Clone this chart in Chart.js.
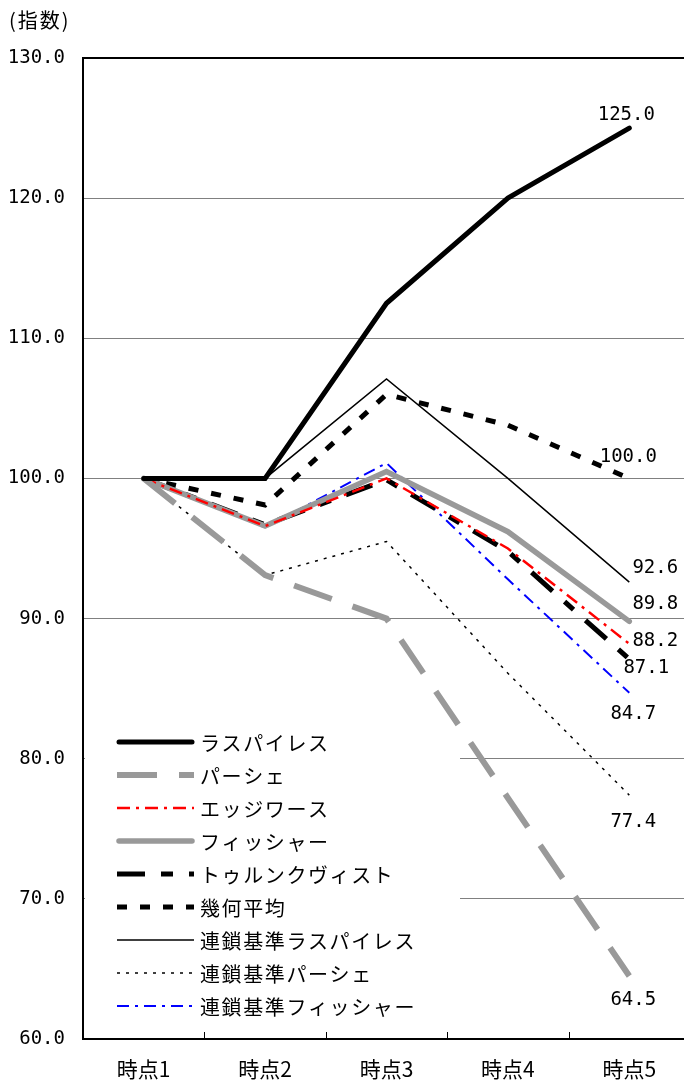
<!DOCTYPE html>
<html>
<head>
<meta charset="utf-8">
<script src="https://cdn.jsdelivr.net/npm/chart.js@4"></script>
<style>
  html, body { margin: 0; padding: 0; background: #fff; overflow: hidden; }
  #wrap { width: 684px; height: 1081px; overflow: hidden; }
</style>
</head>
<body>
<div id="wrap"><canvas id="myChart" width="690" height="1081"></canvas></div>
<script>
// data
var categories = ['時点1', '時点2', '時点3', '時点4', '時点5'];
var seriesNames = ['ラスパイレス', 'パーシェ', 'エッジワース', 'フィッシャー', 'トゥルンクヴィスト',
  '幾何平均', '連鎖基準ラスパイレス', '連鎖基準パーシェ', '連鎖基準フィッシャー'];
var laspeyres      = [100.0, 100.0, 112.5, 120.0, 125.0];
var paasche        = [100.0,  93.1,  90.0,  77.2,  64.5];
var edgeworth      = [100.0,  96.6, 100.0,  95.0,  88.2];
var fisher         = [100.0,  96.6, 100.5,  96.2,  89.8];
var tornqvist      = [100.0,  96.7,  99.9,  94.8,  87.1];
var geometric      = [100.0,  98.1, 106.0, 103.8, 100.0];
var chainLaspeyres = [100.0, 100.0, 107.1, 100.0,  92.6];
var chainPaasche   = [100.0,  93.1,  95.5,  86.1,  77.4];
var chainFisher    = [100.0,  96.5, 101.1,  92.8,  84.7];
var yMin = 60, yMax = 130, yStep = 10;

// line styles, same order as seriesNames
var styles = [
  {color: '#000000', width: 5,   dash: [],              cap: 'round'},
  {color: '#999999', width: 6,   dash: [40, 22],        cap: 'butt'},
  {color: '#ff0000', width: 2.5, dash: [13, 6, 3, 6],   cap: 'butt'},
  {color: '#999999', width: 5.5, dash: [],              cap: 'round'},
  {color: '#000000', width: 5,   dash: [28, 16, 12, 16], cap: 'butt'},
  {color: '#000000', width: 5,   dash: [10, 13],        cap: 'butt'},
  {color: '#000000', width: 1.5, dash: [],              cap: 'butt'},
  {color: '#000000', width: 1.5, dash: [3, 6],          cap: 'butt'},
  {color: '#0000ff', width: 2,   dash: [12, 6, 3, 6],   cap: 'butt'}
];
// where the end value text sits relative to the last point
var labelOffsets = [[-3, -13], [4, 24], [26, -3], [26, -17], [17, 9], [-1, -21], [26, -14], [4, 27], [4, 21]];

var allSeries = [laspeyres, paasche, edgeworth, fisher, tornqvist, geometric, chainLaspeyres, chainPaasche, chainFisher];
var datasets = allSeries.map(function(values, i) {
  var s = styles[i];
  return {
    label: seriesNames[i],
    data: values,
    borderColor: s.color,
    backgroundColor: s.color,
    borderWidth: s.width,
    borderDash: s.dash,
    borderCapStyle: s.cap,
    borderJoinStyle: 'miter',
    pointRadius: 0,
    tension: 0,
    fill: false
  };
});

var numFont = '19px "DejaVu Sans Mono", monospace';
var jpFont = '"Noto Sans CJK JP", sans-serif';

var extras = {
  id: 'extras',
  beforeDatasetsDraw: function(chart) {
    var ctx = chart.ctx;
    var area = chart.chartArea;
    ctx.save();
    // white legend box hides the grid lines underneath
    ctx.fillStyle = '#ffffff';
    ctx.fillRect(area.left + 2, 722, 460 - area.left - 2, 305);
    // small inward ticks on the category axis
    var xs = chart.scales.x;
    ctx.strokeStyle = '#000';
    ctx.lineWidth = 1;
    for (var i = 1; i < categories.length; i++) {
      var bx = Math.round((xs.getPixelForValue(i - 1) + xs.getPixelForValue(i)) / 2) + 0.5;
      ctx.beginPath();
      ctx.moveTo(bx, area.bottom);
      ctx.lineTo(bx, area.bottom - 7);
      ctx.stroke();
    }
    ctx.restore();
  },
  afterDatasetsDraw: function(chart) {
    var ctx = chart.ctx;
    ctx.save();
    // unit label
    ctx.fillStyle = '#000';
    ctx.font = '20px ' + jpFont;
    ctx.letterSpacing = '2px';
    ctx.textAlign = 'left';
    ctx.textBaseline = 'middle';
    ctx.fillText('(指数)', 9, 20);

    // legend
    ctx.letterSpacing = '1.6px';
    chart.data.datasets.forEach(function(ds, i) {
      var y = 742 + i * 33;
      ctx.beginPath();
      ctx.strokeStyle = ds.borderColor;
      ctx.lineWidth = ds.borderWidth;
      ctx.setLineDash(ds.borderDash);
      ctx.lineCap = ds.borderCapStyle;
      var x0 = ds.borderCapStyle == 'round' ? 119 : 117;
      var x1 = ds.borderCapStyle == 'round' ? 192 : 194;
      ctx.moveTo(x0, y);
      ctx.lineTo(x1, y);
      ctx.stroke();
      ctx.setLineDash([]);
      ctx.fillStyle = '#000';
      ctx.font = '20px ' + jpFont;
      ctx.textBaseline = 'middle';
      ctx.fillText(ds.label, 200, y + 1);
    });
    ctx.letterSpacing = '0px';

    // value labels at the last point
    ctx.font = numFont;
    ctx.textAlign = 'center';
    ctx.textBaseline = 'middle';
    ctx.fillStyle = '#000';
    chart.data.datasets.forEach(function(ds, i) {
      var meta = chart.getDatasetMeta(i);
      var last = meta.data[meta.data.length - 1];
      var v = ds.data[ds.data.length - 1];
      ctx.fillText(v.toFixed(1), last.x + labelOffsets[i][0], last.y + labelOffsets[i][1]);
    });
    ctx.restore();
  }
};

var ctx = document.getElementById('myChart');
var myChart = new Chart(ctx, {
  type: 'line',
  data: {labels: categories, datasets: datasets},
  options: {
    responsive: false,
    animation: false,
    devicePixelRatio: 1,
    layout: {padding: {top: 58, left: 0, right: 0, bottom: 0}},
    plugins: {legend: {display: false}, tooltip: {enabled: false}},
    scales: {
      x: {
        offset: true,
        grid: {display: true, drawOnChartArea: false, drawTicks: false, offset: true},
        border: {color: '#000', width: 2},
        ticks: {color: '#000', font: {family: 'Noto Sans CJK JP', size: 21}, padding: 17, maxRotation: 0},
        afterFit: function(scale) { scale.height = 42; }
      },
      y: {
        min: yMin,
        max: yMax,
        ticks: {
          stepSize: yStep,
          color: '#000',
          font: {family: 'DejaVu Sans Mono', size: 19},
          padding: 18,
          callback: function(v) { return Number(v).toFixed(1); }
        },
        grid: {
          drawTicks: false,
          lineWidth: function(c) { return c.tick && c.tick.value == yMax ? 2 : 1; },
          color: function(c) { return c.tick && c.tick.value == yMax ? '#000' : '#808080'; }
        },
        border: {color: '#000', width: 2},
        afterFit: function(scale) { scale.width = 83; }
      }
    }
  },
  plugins: [extras]
});
</script>
</body>
</html>
